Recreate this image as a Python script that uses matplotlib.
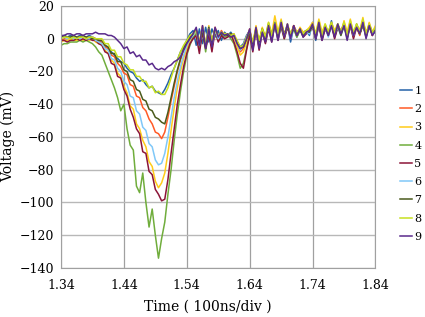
"""
Voltage waveforms of nine runs plotted against time (100 ns/div).
Save the figure as out.png.
"""

import numpy as np
from matplotlib import pyplot

# Sample times (0.005 div steps from 1.34 to 1.84).
t = np.round(np.linspace(1.34, 1.84, 101), 3)

# Voltage (mV) for each run.
v1 = ([1, 2, 1, 2, 1, 1, 2, 1, 1, 2, 1, 0, -1]
      + [-2, -4, -6, -8, -10, -12, -14, -15, -18, -20, -21, -24, -26, -25, -28, -30, -29, -32, -33, -34]
      + [-31, -27, -22, -18, -13, -8, -5, -1, 3, 5]
      + [-4, 6, -3, 7, -2, 6, 1, 5, -1, 4] + [2, 4, 1] + [-2, -5, -3, 2] + [5, -6, 6, -4, 5, -2]
      + [9, -1, 10, 0, 8, 2, 9, -2, 7, 1, 6, 4, 5, 2, 10, -1, 9, 0, 8, 3, 11, 1, 7, 4, 10, 0, 9, 2, 8, 5, 11, 1, 9, 3, 4])
v2 = ([-1, 0, 0, 1, 0, 1, 1, 0, 1, 0, 1, 0, -2]
      + [-2, -5, -6, -10, -11, -15, -17, -21, -22, -28, -29, -35, -36, -42, -44, -49, -52, -57, -58, -61]
      + [-57, -48, -38, -29, -20, -13, -7, -2, 1, 3]
      + [5, -5, 8, -4, 6, -3, 7, 0, 5, 2] + [3, 1, 3] + [-4, -8, -6, 0] + [6, -4, 7, -3, 6, 0]
      + [8, 2, 9, 1, 10, 3, 7, 1, 8, 4, 6, 3, 4, 6, 9, 2, 10, 1, 8, 3, 9, 2, 8, 5, 9, 1, 10, 3, 7, 2, 10, 4, 8, 2, 6])
v3 = ([-2, -1, -1, 0, -1, -1, 0, -1, 0, -1, 0, -2, -3]
      + [-3, -7, -9, -13, -15, -21, -23, -29, -33, -41, -43, -52, -55, -62, -66, -75, -78, -87, -91, -88]
      + [-82, -70, -56, -42, -30, -20, -12, -6, -1, 2]
      + [4, -2, 7, -5, 8, -3, 6, 1, 4, 3] + [2, 3, 1] + [-5, -10, -8, -2] + [4, -3, 8, -2, 7, 1]
      + [10, 3, 14, 4, 12, 2, 9, 3, 8, 2, 7, 4, 5, 7, 10, 3, 12, 4, 9, 3, 10, 5, 9, 3, 11, 4, 12, 3, 9, 5, 13, 2, 10, 4, 8])
v4 = ([-4, -3, -3, -2, -2, -2, -1, -2, -1, -2, -3, -5, -8]
      + [-10, -15, -20, -25, -30, -36, -44, -40, -55, -65, -68, -90, -94, -82, -100, -115, -104, -120, -134, -122]
      + [-112, -95, -80, -62, -46, -32, -20, -10, -4, 1]
      + [3, -6, 5, -8, 6, -5, 4, -1, 3, 1] + [2, 0, -3] + [-10, -18, -15, -6] + [3, -4, 6, -3, 5, 0]
      + [8, 1, 10, 2, 7, 0, 8, 3, 6, 1, 5, 3, 4, 5, 8, 2, 9, 0, 7, 3, 8, 2, 9, 4, 7, 2, 8, 1, 9, 3, 8, 2, 7, 3, 5])
v5 = ([-1, -1, -2, -1, -1, 0, -1, 0, -1, 0, -1, -1, -3]
      + [-4, -8, -9, -15, -16, -23, -24, -31, -35, -43, -48, -55, -58, -69, -70, -81, -83, -92, -95, -99]
      + [-98, -86, -70, -55, -40, -28, -17, -9, -3, 0]
      + [2, -9, 4, -6, 3, -8, 5, -2, 2, 0] + [1, 3, -2] + [-8, -15, -18, -7] + [2, -8, 5, -7, 4, -3]
      + [6, -2, 9, -1, 8, 0, 7, 1, 8, 2, 6, 1, 3, 4, 7, 0, 8, -1, 6, 2, 8, 0, 7, 3, 9, 1, 8, 0, 7, 3, 9, 1, 8, 2, 6])
v6 = ([0, 1, 0, 1, 0, 1, 0, 1, 0, 0, 1, -1, -2]
      + [-3, -6, -7, -12, -13, -18, -20, -26, -28, -35, -36, -44, -46, -54, -56, -64, -66, -74, -77, -76]
      + [-70, -60, -48, -36, -26, -17, -10, -4, 0, 2]
      + [5, -4, 6, -3, 7, -4, 5, 0, 4, 2] + [3, 2, 2] + [-3, -7, -4, 1] + [5, -5, 6, -4, 4, -1]
      + [7, 1, 8, 0, 9, 2, 8, 0, 7, 3, 5, 2, 4, 3, 8, 1, 9, 2, 7, 1, 8, 3, 7, 2, 8, 0, 9, 2, 8, 4, 9, 1, 8, 3, 5])
v7 = ([1, 2, 1, 1, 2, 1, 1, 2, 1, 1, 0, 0, -1]
      + [-1, -4, -5, -9, -9, -14, -14, -19, -20, -25, -26, -31, -32, -37, -38, -43, -44, -48, -49, -51]
      + [-52, -45, -36, -27, -19, -12, -6, -2, 1, 3]
      + [6, -3, 5, -5, 7, -2, 6, 2, 3, 3] + [2, 3, 2] + [-2, -6, -5, 0] + [4, -3, 5, -2, 6, 0]
      + [9, 2, 8, 1, 9, 3, 7, 2, 6, 3, 5, 2, 5, 4, 8, 2, 9, 1, 8, 2, 9, 3, 8, 2, 8, 1, 9, 3, 7, 3, 9, 2, 8, 4, 6])
v8 = ([0, 1, 1, 0, 1, 0, 1, 1, 0, 1, 1, 0, 0]
      + [0, -3, -3, -7, -7, -11, -11, -15, -16, -19, -19, -23, -23, -26, -26, -30, -29, -33, -32, -34]
      + [-34, -30, -24, -18, -13, -8, -4, -1, 2, 3]
      + [5, -2, 7, -3, 6, -1, 5, 2, 4, 3] + [3, 2, 3] + [-1, -5, -4, 1] + [5, -2, 6, -1, 6, 1]
      + [10, 2, 9, 3, 11, 2, 8, 3, 7, 4, 6, 3, 5, 6, 9, 3, 11, 2, 9, 4, 10, 3, 9, 4, 10, 2, 11, 4, 9, 3, 12, 3, 9, 4, 7])
v9 = ([2, 2, 3, 3, 2, 3, 3, 2, 3, 3, 3, 4, 3]
      + [3, 3, 2, 2, 1, -1, -3, -6, -5, -9, -8, -11, -10, -13, -13, -16, -15, -18, -19, -18]
      + [-19, -17, -16, -14, -13, -11, -7, -3, 0, 3]
      + [7, -4, 8, -6, 6, -5, 7, 1, 4, 2] + [3, 1, 2] + [-3, -6, -5, 0] + [6, -7, 7, -6, 4, -2]
      + [8, -2, 9, -1, 10, 1, 9, 0, 8, 2, 6, 1, 4, 5, 9, 0, 10, -1, 7, 2, 8, 1, 9, 3, 8, -1, 9, 2, 7, 3, 10, 0, 8, 2, 5])

series = [v1, v2, v3, v4, v5, v6, v7, v8, v9]
labels = ['1', '2', '3', '4', '5', '6', '7', '8', '9']
colors = ['#2462a8', '#ff5a26', '#ffcc1a', '#70ad3c', '#8c1538',
          '#80c8f8', '#4a5a1c', '#c8e020', '#5a2a8c']

xticks = [1.34, 1.44, 1.54, 1.64, 1.74, 1.84]
yticks = [20, 0, -20, -40, -60, -80, -100, -120, -140]

pyplot.rc('font', family='DejaVu Serif', size=9)
fig = pyplot.figure(figsize=(4.25, 3.17), dpi=100)
ax = fig.add_axes([0.1435, 0.1546, 0.740, 0.8265])

for v, lab, col in zip(series, labels, colors):
    ax.plot(t, v, color=col, linewidth=1.1, label=lab)

ax.set_xlim(1.34, 1.84)
ax.set_ylim(-140, 20)
ax.set_xticks(xticks)
ax.set_xticklabels(['%.2f' % x for x in xticks])
ax.set_yticks(yticks)
ax.tick_params(length=0)
ax.tick_params(axis='x', pad=8)
ax.tick_params(axis='y', pad=5)
ax.grid(axis='x', color='#a0a0a0', linewidth=0.9)
ax.grid(axis='y', color='#b8b8b8', linewidth=1.0)
ax.set_axisbelow(True)
for sp in ax.spines.values():
    sp.set_color('#a0a0a0')

fig.text(0.49, 0.032, 'Time ( 100ns/div )', ha='center', va='center', fontsize=10)
fig.text(0.018, 0.57, 'Voltage (mV)', ha='center', va='center',
         rotation=90, fontsize=10)

ax.legend(loc='center left', bbox_to_anchor=(0.928, 0.483),
          bbox_transform=fig.transFigure, frameon=False, borderpad=0,
          handlelength=1.05, handletextpad=0.25, labelspacing=0.74,
          fontsize=8)

fig.savefig('out.png', dpi=100)
